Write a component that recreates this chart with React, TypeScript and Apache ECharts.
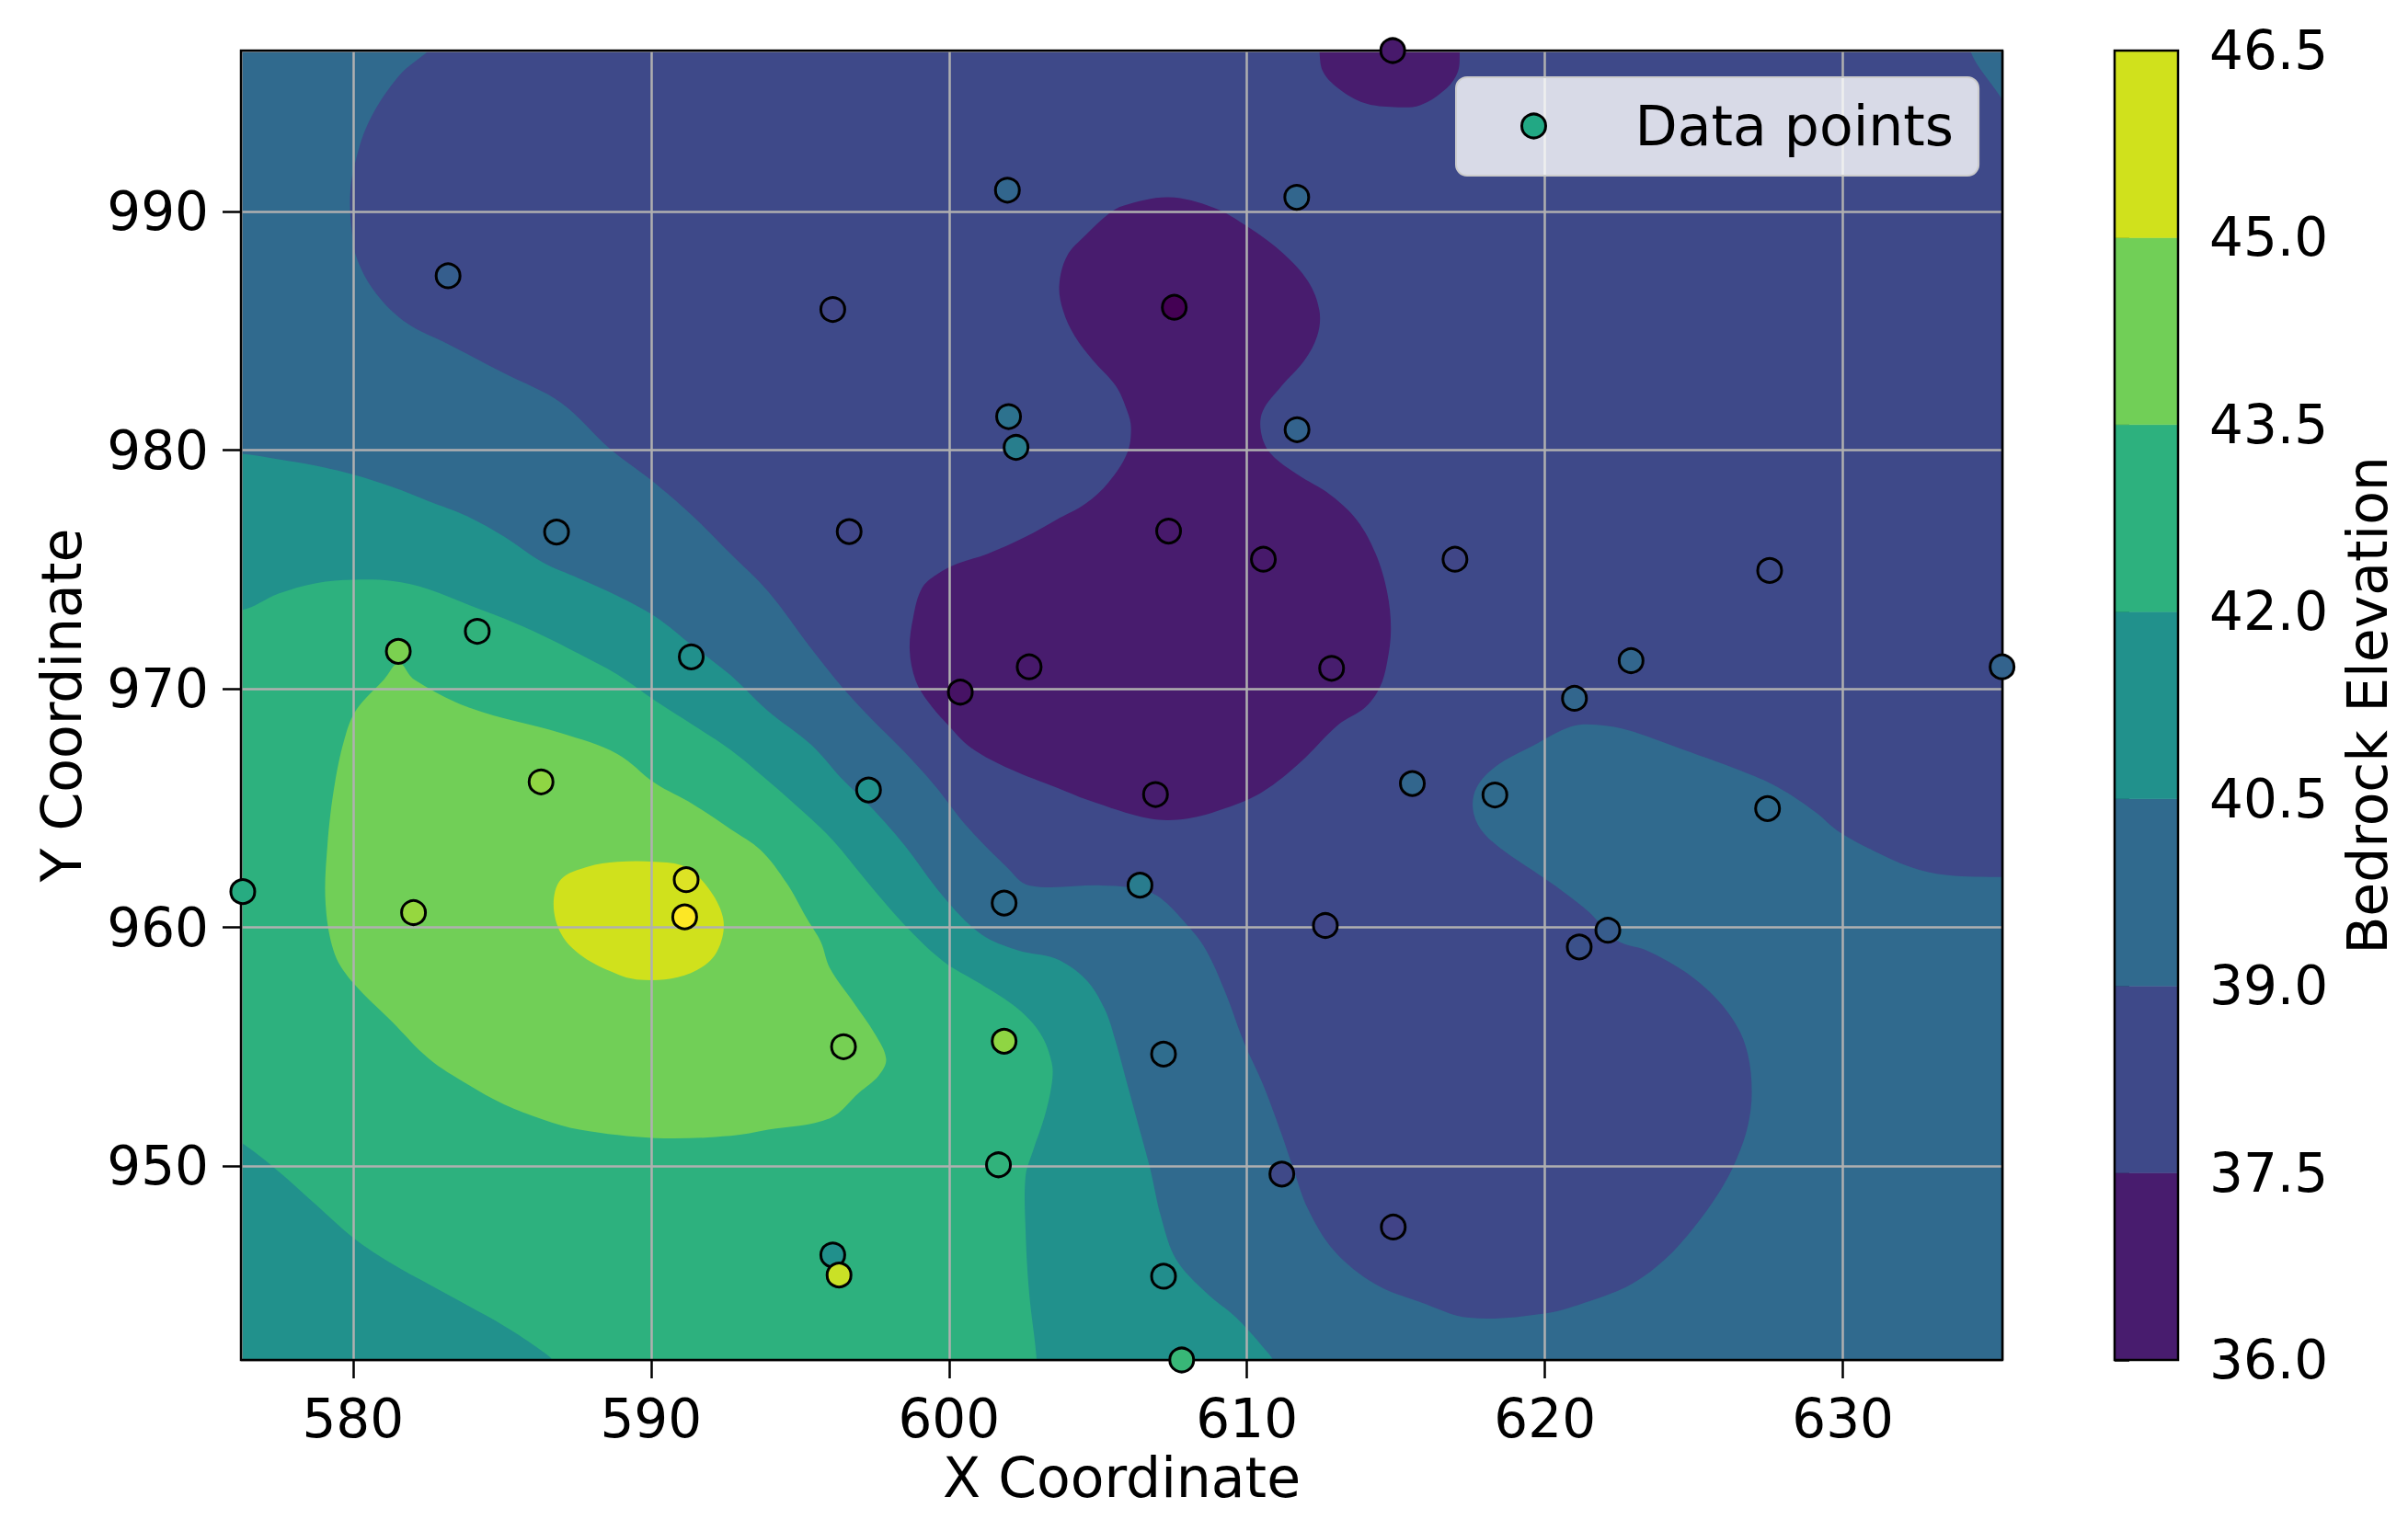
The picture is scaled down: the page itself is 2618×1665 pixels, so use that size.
import React, { useEffect, useRef } from "react";
import * as echarts from "echarts";

// ---------------- data ----------------
const pointX = [614.89, 601.96, 611.67, 583.19, 596.10, 607.56, 602.00, 602.25, 611.68, 586.83, 596.65, 607.37, 610.55, 616.98, 627.54, 584.17, 581.52, 591.35, 600.38, 602.69, 612.84, 622.89, 620.99, 635.34, 576.30, 586.31, 597.30, 606.93, 615.55, 618.32, 627.47, 591.18, 591.13, 582.03, 601.85, 606.41, 612.63, 622.11, 621.15, 596.46, 601.85, 607.20, 601.66, 611.17, 614.91, 596.10, 596.31, 607.20, 607.81];
const pointY = [996.75, 990.90, 990.60, 987.31, 985.90, 985.99, 981.41, 980.12, 980.86, 976.57, 976.59, 976.61, 975.43, 975.43, 974.96, 972.41, 971.57, 971.34, 969.86, 970.92, 970.86, 971.18, 969.60, 970.92, 961.50, 966.10, 965.76, 965.57, 966.03, 965.55, 964.98, 962.00, 960.44, 960.62, 961.02, 961.77, 960.08, 959.88, 959.18, 955.00, 955.23, 954.69, 950.05, 949.66, 947.44, 946.27, 945.43, 945.38, 941.87];
const pointValue = [37.0, 39.6, 39.6, 39.3, 38.4, 36.3, 40.1, 40.6, 39.5, 39.9, 38.4, 37.0, 37.0, 38.4, 38.6, 42.8, 44.4, 41.3, 36.8, 37.0, 37.1, 39.6, 39.6, 39.5, 42.5, 44.7, 41.4, 37.1, 39.6, 39.8, 39.8, 45.9, 46.4, 44.8, 39.9, 40.5, 38.4, 39.2, 38.8, 44.3, 44.7, 39.9, 42.8, 38.5, 38.3, 41.3, 45.6, 41.2, 43.0];

const contourLevels = [36.0, 37.5, 39.0, 40.5, 42.0, 43.5, 45.0, 46.5];
const bandColors = ["#481c6e", "#3e4989", "#306a8e", "#21918c", "#2db17e", "#71cf57", "#d0e11c"];
const viridis = ["#440154", "#482475", "#414487", "#355f8d", "#2a788e", "#21918c", "#22a884", "#44bf70", "#7ad151", "#bddf26", "#fde725"];

const xExtent = [576.24, 635.35];
const yExtent = [941.87, 996.75];

// contour regions (data units)
const regionAll = [[570, 935], [640, 935], [640, 1002], [570, 1002]];

const region39Up = [
  [574, 999], [584, 999], [583.4, 997.7], [582.55, 996.75], [581.54, 995.69], [580.53, 993.76], [580.03, 991.83], [579.9, 990.6],
  [579.96, 989.19], [580.15, 987.96], [580.78, 986.56], [581.8, 985.33], [583.19, 984.45], [585.08, 983.22], [586.98, 981.99],
  [588.62, 980.06], [590.01, 978.74], [591.4, 977.24], [592.67, 975.66], [593.93, 974.08], [595.37, 971.7], [596.4, 970.09],
  [597.44, 968.68], [598.47, 967.4], [599.5, 965.98], [600.64, 964.18], [601.93, 962.54], [602.69, 961.76], [605.09, 961.76],
  [606.1, 961.67], [606.99, 961.32], [608.0, 960.09], [608.63, 959.04], [609.27, 957.29], [609.9, 955.19], [610.53, 953.44],
  [611.16, 951.34], [611.54, 949.94], [612.05, 948.19], [612.93, 946.44], [614.32, 945.04], [615.81, 944.3], [617.46, 943.64],
  [619.98, 943.82], [621.5, 944.34], [622.89, 945.04], [624.03, 946.09], [625.04, 947.49], [625.93, 949.07], [626.43, 950.29],
  [626.81, 951.69], [626.94, 953.09], [626.81, 954.67], [626.43, 955.89], [625.67, 957.12], [624.66, 958.17], [623.4, 959.04],
  [622.51, 959.39], [622.01, 959.92], [621.5, 960.62], [620.62, 961.49], [619.61, 962.37], [618.59, 963.24], [617.84, 964.12],
  [617.58, 964.99], [617.71, 965.87], [618.34, 966.74], [619.61, 967.62], [620.87, 968.41], [621.75, 968.49], [622.89, 968.23],
  [624.66, 967.44], [626.56, 966.57], [627.82, 965.87], [629.09, 964.82], [629.84, 964.03], [630.98, 963.24], [632.25, 962.54],
  [633.51, 962.19], [635.63, 962.11], [637.5, 962.1], [637.5, 939], [574, 939]
];

const region39Corner = [[634.0, 999], [634.27, 996.75], [635.28, 994.82], [635.63, 994.11], [637.5, 993.5], [637.5, 999]];

const region40_5Up = [
  [574, 979.85], [576.23, 979.85], [577.5, 979.62], [578.76, 979.35], [580.03, 978.97], [581.29, 978.47], [582.55, 977.86],
  [583.82, 977.24], [585.08, 976.37], [586.35, 975.31], [587.61, 974.61], [588.87, 973.9], [590.14, 973.03], [591.4, 971.8],
  [592.67, 970.57], [593.9, 969.1], [595.37, 967.66], [596.4, 966.24], [597.44, 964.96], [598.52, 963.42],
  [599.79, 961.32], [601.05, 959.74], [602.31, 959.04], [603.58, 958.69], [604.59, 957.82], [605.22, 956.59], [605.6, 955.19],
  [605.98, 953.44], [606.36, 951.69], [606.74, 949.94], [607.12, 947.84], [607.62, 946.09], [608.63, 944.69], [609.64, 943.64],
  [610.53, 942.42], [610.91, 941.75], [611.3, 939], [574, 939]
];

const region42Up = [
  [574, 973.29], [576.23, 973.29], [577.5, 973.99], [578.76, 974.43], [580.03, 974.57], [581.29, 974.52], [582.55, 974.17],
  [583.82, 973.55], [585.08, 972.94], [586.35, 972.24], [587.61, 971.45], [588.87, 970.6], [590.14, 969.5], [591.4, 968.49],
  [592.67, 967.44], [593.93, 966.14], [595.2, 964.74], [596.1, 963.65], [597.26, 961.9], [598.52, 960.09], [599.79, 958.6],
  [601.05, 957.64], [602.31, 956.59], [603.07, 955.54], [603.45, 954.32], [603.45, 953.44], [603.2, 952.04], [602.82, 950.64],
  [602.57, 949.59], [602.57, 947.32], [602.69, 944.69], [602.95, 941.75], [603.0, 939], [587.0, 939], [586.73, 941.75],
  [586.35, 942.24], [585.08, 943.29], [583.82, 944.17], [582.55, 945.04], [581.29, 945.92], [580.03, 946.97], [578.76, 948.37],
  [577.5, 949.77], [576.23, 950.99], [574, 952.6]
];

const region42Spike = [[607.45, 940.5], [607.6, 941.87], [607.8, 942.45], [608.0, 941.87], [608.15, 940.5]];

const region43_5Up = [
  [579.14, 963.42], [579.08, 960.97], [579.39, 958.87], [580.03, 957.64], [581.29, 956.07], [582.55, 954.49], [583.82, 953.44],
  [585.08, 952.57], [586.35, 951.96], [587.61, 951.52], [590.14, 951.17], [592.67, 951.26], [593.93, 951.52], [596.0, 952.0],
  [597.0, 953.09], [597.64, 953.79], [597.89, 954.49], [597.51, 955.54], [596.75, 956.94], [596.0, 958.3], [595.7, 959.39],
  [595.2, 960.44], [594.56, 961.84], [593.68, 963.24], [592.67, 964.12], [591.4, 965.17], [590.14, 966.04], [588.87, 967.27],
  [586.98, 968.14], [583.94, 969.19], [582.05, 970.39], [581.54, 971.09], [581.04, 970.39], [580.15, 969.19], [579.77, 968.14],
  [579.39, 966.04]
];

const region45Up = [
  [586.73, 960.97], [586.98, 962.02], [587.86, 962.54], [588.87, 962.75], [590.14, 962.75], [591.15, 962.54], [591.91, 961.67],
  [592.41, 960.44], [592.35, 959.39], [591.91, 958.52], [590.9, 957.91], [589.51, 957.82], [588.62, 958.17], [587.61, 958.87],
  [586.98, 959.74]
];

const region36Low = [
  [605.85, 990.25], [607.37, 990.6], [608.89, 990.16], [610.02, 989.37], [611.16, 988.31], [612.05, 987.08], [612.43, 985.85],
  [612.36, 984.8], [611.92, 983.75], [611.16, 982.69], [610.53, 981.64], [610.47, 980.76], [610.78, 979.88], [611.67, 979.0],
  [612.81, 978.12], [613.69, 977.07], [614.32, 975.66], [614.7, 974.08], [614.83, 972.5], [614.7, 971.09], [614.45, 970.04],
  [613.95, 969.2], [613.06, 968.49], [611.79, 966.92], [610.53, 965.69], [609.27, 964.99], [608.0, 964.56], [606.74, 964.56],
  [604.66, 965.34], [603.63, 965.85], [602.08, 966.62], [600.74, 967.53], [599.92, 968.55], [599.3, 969.45], [598.88, 970.35],
  [598.68, 971.63], [598.8, 973.0], [599.09, 974.21], [599.6, 974.8], [600.3, 975.25], [601.3, 975.66], [602.57, 976.37],
  [603.58, 977.07], [604.59, 977.77], [605.35, 978.65], [605.98, 979.88], [606.11, 980.93], [605.98, 981.64], [605.6, 982.69],
  [604.84, 983.75], [604.21, 984.8], [603.83, 985.85], [603.7, 986.91], [603.96, 988.14], [604.59, 989.02], [605.35, 989.9]
];

const region36LowTop = [
  [612.3, 999], [612.43, 996.75], [612.55, 995.87], [613.06, 995.17], [613.94, 994.55], [614.95, 994.38], [615.81, 994.46],
  [616.7, 995.17], [617.08, 995.87], [617.14, 996.75], [617.2, 999]
];

// painter's order: region, band index
const contourRegions = [regionAll, region39Up, region39Corner, region40_5Up, region42Up, region42Spike, region43_5Up, region45Up, region36Low, region36LowTop];
const contourBands = [1, 2, 2, 3, 4, 4, 5, 6, 0, 0];

const FONT = "DejaVu Sans";
const FS_TICK = 58;
const FS_LABEL = 60;

export default function App() {
  const ref = useRef<HTMLDivElement>(null);

  useEffect(() => {
    if (!ref.current) return;
    const chart = echarts.init(ref.current, null, { renderer: "svg" });

    const scatterData = pointX.map((x, i) => [x, pointY[i], pointValue[i]]);
    const vMin = Math.min(...pointValue);
    const vMax = Math.max(...pointValue);

    const option: any = {
      animation: false,
      backgroundColor: "#ffffff",
      textStyle: { fontFamily: FONT },
      grid: [
        { left: 262, top: 55, width: 1915, height: 1424, show: true, backgroundColor: "transparent", borderColor: "#000", borderWidth: 2.5, z: 6 },
        { left: 2299, top: 55, width: 69, height: 1424, show: true, backgroundColor: "transparent", borderColor: "#000", borderWidth: 2.5, z: 6 },
      ],
      xAxis: [
        {
          type: "value", gridIndex: 0, min: xExtent[0], max: xExtent[1], z: 5,
          name: "X Coordinate", nameLocation: "middle", nameGap: 98,
          nameTextStyle: { fontSize: FS_LABEL, color: "#000", fontFamily: FONT },
          axisLine: { show: false },
          axisTick: { show: true, length: 20, lineStyle: { color: "#000", width: 2.5 } },
          axisLabel: { fontSize: FS_TICK, color: "#000", margin: 35, fontFamily: FONT, showMinLabel: false, showMaxLabel: false },
          splitLine: { show: true, lineStyle: { color: "#b0b0b0", width: 2.5 } },
        },
        { type: "value", gridIndex: 1, min: 0, max: 1, show: false },
      ],
      yAxis: [
        {
          type: "value", gridIndex: 0, min: yExtent[0], max: yExtent[1], z: 5,
          name: "Y Coordinate", nameLocation: "middle", nameGap: 165, nameRotate: 90,
          nameTextStyle: { fontSize: FS_LABEL, color: "#000", fontFamily: FONT },
          axisLine: { show: false },
          axisTick: { show: true, length: 20, lineStyle: { color: "#000", width: 2.5 } },
          axisLabel: { fontSize: FS_TICK, color: "#000", margin: 35, fontFamily: FONT, showMinLabel: false, showMaxLabel: false },
          splitLine: { show: true, lineStyle: { color: "#b0b0b0", width: 2.5 } },
        },
        {
          type: "value", gridIndex: 1, position: "right", min: contourLevels[0], max: contourLevels[contourLevels.length - 1], interval: 1.5,
          name: "Bedrock Elevation", nameLocation: "middle", nameGap: 176, nameRotate: 90,
          nameTextStyle: { fontSize: FS_LABEL, color: "#000", fontFamily: FONT },
          axisLine: { show: false },
          axisTick: { show: true, length: 16, lineStyle: { color: "#000", width: 2.5 } },
          axisLabel: { fontSize: FS_TICK, color: "#000", margin: 34, fontFamily: FONT, formatter: (v: number) => v.toFixed(1) },
          splitLine: { show: false },
        },
      ],
      legend: {
        data: [{ name: "Data points", icon: "circle", itemStyle: { color: "#22a884", borderColor: "#000", borderWidth: 3 } }],
        left: 1583, top: 84,
        itemWidth: 50, itemHeight: 26,
        padding: [23, 27, 24, 70],
        backgroundColor: "rgba(255,255,255,0.8)",
        borderColor: "#cccccc", borderWidth: 2, borderRadius: 12,
        textStyle: { fontSize: FS_LABEL, color: "#000", fontFamily: FONT, padding: [0, 0, 0, 80] },
        z: 8,
      },
      visualMap: {
        type: "continuous", show: false, seriesIndex: 1, dimension: 2,
        min: vMin, max: vMax, inRange: { color: viridis },
      },
      series: [
        {
          type: "custom", name: "contours", xAxisIndex: 0, yAxisIndex: 0, clip: true, z: 1,
          silent: true,
          data: contourRegions.map((_, i) => [xExtent[0], yExtent[0], i]),
          renderItem: (params: any, api: any) => {
            const idx = api.value(2);
            const pts = contourRegions[idx].map((p) => api.coord(p));
            return {
              type: "polygon",
              shape: { points: pts, smooth: idx === 0 ? 0 : 0.35 },
              style: { fill: bandColors[contourBands[idx]], stroke: null },
            };
          },
        },
        {
          type: "scatter", name: "Data points", xAxisIndex: 0, yAxisIndex: 0, z: 10,
          symbol: "circle", symbolSize: 26,
          itemStyle: { borderColor: "#000", borderWidth: 3, opacity: 1 },
          data: scatterData,
        },
        {
          type: "custom", name: "colorbar", xAxisIndex: 1, yAxisIndex: 1, z: 1, silent: true,
          data: bandColors.map((_, i) => [0, contourLevels[i], i]),
          renderItem: (params: any, api: any) => {
            const i = api.value(2);
            const p0 = api.coord([0, contourLevels[i + 1]]);
            const p1 = api.coord([1, contourLevels[i]]);
            return {
              type: "rect",
              shape: { x: p0[0], y: p0[1], width: p1[0] - p0[0], height: p1[1] - p0[1] },
              style: { fill: bandColors[i], stroke: bandColors[i], lineWidth: 0.5 },
            };
          },
        },
      ],
    };

    chart.setOption(option);
    return () => chart.dispose();
  }, []);

  return (
    <div
      ref={ref}
      style={{ position: "fixed", left: 0, top: 0, width: 2618, height: 1665, background: "#fff" }}
    />
  );
}
